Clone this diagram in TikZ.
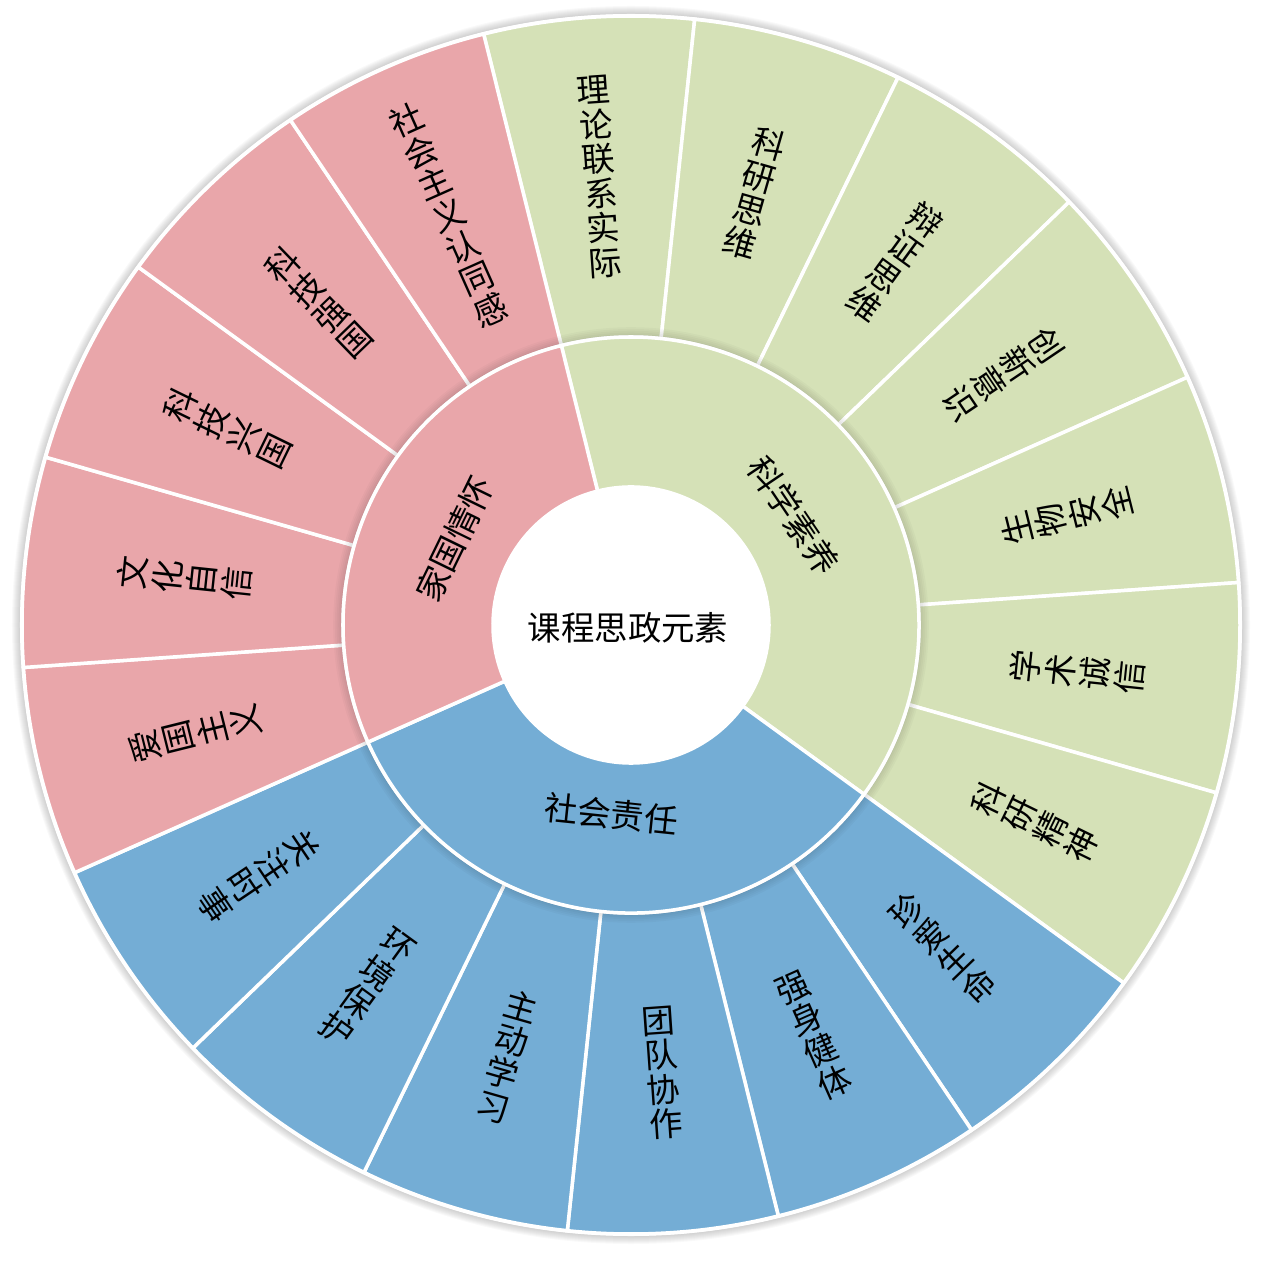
\documentclass[tikz,border=0pt]{standalone}
\usepackage{fontspec}
\newfontfamily\cjk{Noto Sans CJK SC}
\usepackage{tikz}
\usetikzlibrary{positioning}
\definecolor{ringpink}{HTML}{E9A6AA}
\definecolor{ringgreen}{HTML}{D5E1B7}
\definecolor{ringblue}{HTML}{74ADD5}

\begin{document}
\begin{tikzpicture}[x=0.02cm, y=0.02cm,
    font=\cjk\fontsize{19}{19.7}\selectfont,
    sector/.style={draw=white, line width=2pt},
    outlbl/.style={align=center, inner sep=0pt},
    inlbl/.style={inner sep=0pt}]
  \useasboundingbox (-631,-635) rectangle (635,625);
  % soft shadow round the disc
  \foreach \k in {1,...,10}
    \fill[black, opacity=0.022] (0,0) circle (609+\k);
  \fill[white] (0,0) circle (611);
  % outer ring: 18 topics, 20 degrees each
  \foreach \txt/\col [count=\k from 0] in {
      理\\论\\联\\系\\实\\际/ringgreen, 科\\研\\思\\维/ringgreen,
      辩\\证\\思\\维/ringgreen, 创\\新\\意\\识/ringgreen,
      生\\物\\安\\全/ringgreen, 学\\术\\诚\\信/ringgreen,
      科\\研\\精\\神/ringgreen,
      珍\\爱\\生\\命/ringblue, 强\\身\\健\\体/ringblue,
      团\\队\\协\\作/ringblue, 主\\动\\学\\习/ringblue,
      环\\境\\保\\护/ringblue, 关\\注\\时\\事/ringblue,
      爱\\国\\主\\义/ringpink, 文\\化\\自\\信/ringpink,
      科\\技\\兴\\国/ringpink, 科\\技\\强\\国/ringpink,
      社\\会\\主\\义\\认\\同\\感/ringpink} {
    \pgfmathsetmacro\a{104-20*\k}
    \pgfmathsetmacro\b{84-20*\k}
    \pgfmathsetmacro\m{94-20*\k}
    \pgfmathsetmacro\r{Mod(64-20*\k,180)-60}
    \fill[\col, sector] (\a:288) -- (\a:609) arc (\a:\b:609) -- (\b:288)
      arc (\b:\a:288) -- cycle;
    \node[outlbl, rotate=\r] (o\k) at (\m:449) {\txt};
  }
  % faint shade under the inner ring
  \foreach \k in {2,4,...,10}
    \draw[black, opacity=0.025, line width=\k pt] (0,0) circle (289);
  % inner ring: 3 groups
  \fill[ringgreen, sector] (-36:138) -- (-36:288) arc (-36:104:288)
    -- (104:138) arc (104:-36:138) -- cycle;
  \fill[ringblue, sector] (204:138) -- (204:288) arc (204:324:288)
    -- (324:138) arc (324:204:138) -- cycle;
  \fill[ringpink, sector] (104:138) -- (104:288) arc (104:204:288)
    -- (204:138) arc (204:104:138) -- cycle;
  \node[inlbl, rotate=-56] (sci) at (34:196) {科学素养};
  \node[inlbl, rotate=-6] (soc) at (264:190) {社会责任};
  \node[inlbl, rotate=64] (home) at (154:196) {家国情怀};
  % centre
  \fill[white] (0,0) circle (138);
  \node[inlbl] (core) at (-3,-3) {课程思政元素};
\end{tikzpicture}
\end{document}
